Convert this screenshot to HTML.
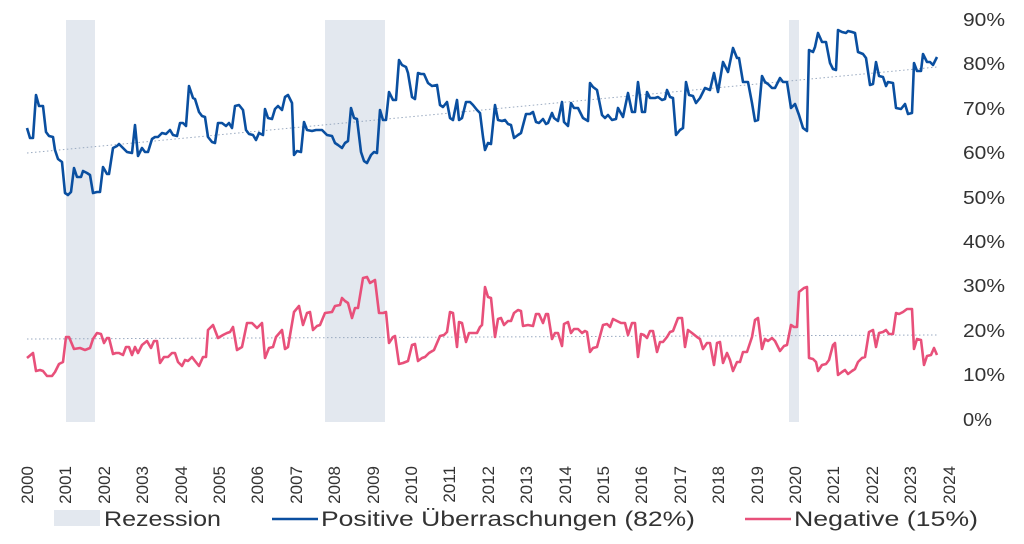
<!DOCTYPE html>
<html><head><meta charset="utf-8"><style>
html,body{margin:0;padding:0;background:#fff;}
svg{display:block;font-family:"Liberation Sans",sans-serif;}
</style></head><body>
<svg width="1024" height="544" viewBox="0 0 1024 544">
<rect x="66" y="20" width="29" height="402" fill="#e3e8ef"/>
<rect x="325" y="20" width="60" height="402" fill="#e3e8ef"/>
<rect x="789" y="20" width="10" height="402" fill="#e3e8ef"/>
<line x1="27" y1="153" x2="937" y2="67" stroke="#9aaac0" stroke-width="1" stroke-dasharray="1.5,2.5"/>
<line x1="27" y1="339" x2="937" y2="335" stroke="#9aaac0" stroke-width="1" stroke-dasharray="1.5,2.5"/>
<polyline fill="none" stroke="#0a4fa0" stroke-width="2.6" stroke-linejoin="round" points="27,128 30,138 33,138 36,95 39,106 43,106 46,132 49,136 53,137 55,150 58,159 62,162 65,193 68,195 71,192 74,168 77,177 81,177 83,171 87,173 90,175 93,193 97,192 100,192 103,167 107,174 109,174 113,148 117,146 119,144 123,148 127,152 132,153 135,125 138,156 142,148 145,152 148,152 152,139 155,137 158,137 162,133 166,134 170,130 173,135 177,136 180,123 183,123 186,126 189,86 193,98 195,99 199,112 202,116 205,117 208,137 212,142 215,143 218,123 222,123 226,126 229,123 232,128 235,106 239,105 243,110 246,130 249,134 253,135 256,140 259,133 263,135 265,109 268,118 272,119 275,109 278,106 282,110 285,97 288,95 292,103 294,155 297,151 301,152 304,122 307,130 312,131 316,130 322,130 327,135 332,136 335,143 338,145 342,148 345,143 348,141 351,108 354,118 357,119 361,152 364,161 367,163 371,155 374,152 377,153 380,110 383,120 386,120 389,92 393,100 396,100 399,60 402,65 406,67 408,73 412,97 415,99 418,73 421,74 424,74 428,83 432,86 437,85 440,105 443,107 447,102 450,118 453,120 457,100 459,120 462,118 466,102 470,102 473,105 477,110 480,113 483,137 485,150 488,143 491,144 495,105 498,120 502,121 505,120 508,124 511,125 514,138 518,135 521,133 526,114 530,114 533,112 536,122 539,123 543,119 546,124 548,123 552,113 554,118 558,121 562,102 564,122 568,126 571,103 574,108 578,108 583,118 588,121 590,83 593,87 597,90 602,115 605,118 608,115 612,120 616,119 618,108 623,117 628,93 632,112 635,112 638,82 642,112 645,112 647,92 650,98 655,98 658,97 662,100 665,99 667,90 670,97 673,98 676,135 680,130 683,128 686,82 689,95 693,96 696,103 700,98 705,88 710,90 714,73 718,92 723,62 728,72 733,48 737,58 739,58 743,82 748,82 752,103 755,121 758,120 762,76 765,82 768,84 772,88 775,88 780,78 783,82 787,82 791,108 795,104 799,115 803,128 807,131 809,50 813,52 815,47 818,33 822,42 826,42 830,63 833,69 836,70 838,30 842,32 846,33 848,31 852,32 855,33 858,52 863,54 866,58 870,85 873,84 876,62 879,76 883,77 886,86 888,82 893,83 896,108 901,109 905,104 908,114 912,113 914,63 917,71 921,71 923,54 927,62 930,62 933,65 937,57"/>
<polyline fill="none" stroke="#e8507a" stroke-width="2.6" stroke-linejoin="round" points="27,358 33,353 36,371 40,370 43,371 47,376 52,376 55,372 59,364 63,362 66,337 69,337 74,349 80,348 85,350 90,348 93,339 97,333 101,334 104,343 107,338 109,338 113,354 116,353 119,353 123,355 126,347 129,347 132,355 135,347 138,353 142,345 147,341 151,348 154,341 157,341 160,363 164,357 168,357 172,353 175,353 178,362 182,366 185,360 188,361 192,357 195,361 199,366 203,357 206,357 208,330 213,325 218,338 223,335 227,333 230,332 233,327 237,350 242,347 247,323 252,323 257,328 262,323 265,358 269,348 273,347 276,337 282,330 285,349 288,347 294,312 299,306 303,325 307,313 310,312 313,330 317,326 320,325 325,313 332,312 335,306 340,305 342,298 345,301 348,303 352,318 355,308 358,308 363,278 367,277 370,283 375,280 379,313 383,313 386,312 389,343 393,337 395,336 399,364 403,363 408,361 412,345 415,344 418,361 422,358 425,357 429,353 434,350 440,336 444,335 447,332 450,312 453,313 457,347 459,322 462,323 466,342 469,333 473,333 477,333 480,327 482,325 485,287 488,297 491,298 495,337 498,319 501,318 504,325 508,321 511,321 514,313 518,310 521,311 523,326 528,325 533,326 536,314 539,314 543,323 546,314 548,314 552,339 555,333 558,333 562,346 564,324 568,322 571,333 574,329 578,329 582,333 585,331 587,332 590,352 593,348 597,347 603,325 607,324 610,327 613,319 617,321 621,323 625,323 628,335 632,323 635,323 638,357 641,334 644,335 647,338 650,331 653,331 657,352 660,342 663,342 667,337 670,332 673,331 678,318 682,318 685,347 688,330 692,333 697,337 700,339 703,349 707,343 710,343 714,365 717,343 720,342 723,363 727,353 730,360 733,371 737,362 740,362 743,352 747,352 752,337 755,320 758,318 762,349 765,339 768,341 772,338 775,341 780,351 784,346 787,345 791,325 794,327 797,327 799,292 804,288 807,287 809,358 813,359 816,362 818,371 822,365 826,364 829,360 833,345 835,343 838,375 842,372 845,370 848,374 852,371 855,369 858,362 862,358 865,357 869,332 873,330 876,347 879,333 883,332 886,330 889,334 893,334 896,313 899,314 903,312 907,309 912,309 914,349 917,339 921,340 924,365 927,356 931,355 934,348 937,355"/>
<g fill="#333" font-size="18">
<text x="963" y="26" textLength="42" lengthAdjust="spacingAndGlyphs">90%</text><text x="963" y="70" textLength="42" lengthAdjust="spacingAndGlyphs">80%</text><text x="963" y="115" textLength="42" lengthAdjust="spacingAndGlyphs">70%</text><text x="963" y="159" textLength="42" lengthAdjust="spacingAndGlyphs">60%</text><text x="963" y="204" textLength="42" lengthAdjust="spacingAndGlyphs">50%</text><text x="963" y="248" textLength="42" lengthAdjust="spacingAndGlyphs">40%</text><text x="963" y="292" textLength="42" lengthAdjust="spacingAndGlyphs">30%</text><text x="963" y="337" textLength="42" lengthAdjust="spacingAndGlyphs">20%</text><text x="963" y="381" textLength="42" lengthAdjust="spacingAndGlyphs">10%</text><text x="963" y="426" textLength="29" lengthAdjust="spacingAndGlyphs">0%</text>
</g>
<g fill="#333" font-size="17" text-anchor="end">
<text transform="translate(33,466) rotate(-90)">2000</text>
<text transform="translate(71,466) rotate(-90)">2001</text>
<text transform="translate(110,466) rotate(-90)">2002</text>
<text transform="translate(148,466) rotate(-90)">2003</text>
<text transform="translate(187,466) rotate(-90)">2004</text>
<text transform="translate(225,466) rotate(-90)">2005</text>
<text transform="translate(263,466) rotate(-90)">2006</text>
<text transform="translate(302,466) rotate(-90)">2007</text>
<text transform="translate(340,466) rotate(-90)">2008</text>
<text transform="translate(379,466) rotate(-90)">2009</text>
<text transform="translate(417,466) rotate(-90)">2010</text>
<text transform="translate(455,466) rotate(-90)">2011</text>
<text transform="translate(494,466) rotate(-90)">2012</text>
<text transform="translate(532,466) rotate(-90)">2013</text>
<text transform="translate(571,466) rotate(-90)">2014</text>
<text transform="translate(609,466) rotate(-90)">2015</text>
<text transform="translate(647,466) rotate(-90)">2016</text>
<text transform="translate(686,466) rotate(-90)">2017</text>
<text transform="translate(724,466) rotate(-90)">2018</text>
<text transform="translate(763,466) rotate(-90)">2019</text>
<text transform="translate(801,466) rotate(-90)">2020</text>
<text transform="translate(839,466) rotate(-90)">2021</text>
<text transform="translate(878,466) rotate(-90)">2022</text>
<text transform="translate(916,466) rotate(-90)">2023</text>
<text transform="translate(955,466) rotate(-90)">2024</text>
</g>
<rect x="54" y="510" width="46" height="16" fill="#e3e8ef"/>
<line x1="272" y1="519" x2="318" y2="519" stroke="#0a4fa0" stroke-width="2.6"/>
<line x1="745" y1="519" x2="791" y2="519" stroke="#e8507a" stroke-width="2.6"/>
<g fill="#333" font-size="21">
<text x="104" y="526" textLength="117" lengthAdjust="spacingAndGlyphs">Rezession</text>
<text x="321" y="526" textLength="374" lengthAdjust="spacingAndGlyphs">Positive Überraschungen (82%)</text>
<text x="794" y="526" textLength="184" lengthAdjust="spacingAndGlyphs">Negative (15%)</text>
</g>
</svg>
</body></html>
